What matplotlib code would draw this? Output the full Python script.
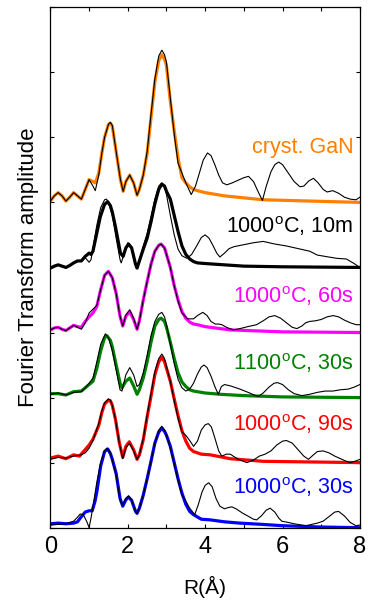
import matplotlib
matplotlib.use("Agg")
import matplotlib.pyplot as plt
from matplotlib.ticker import MultipleLocator

plt.rcParams['font.family'] = ['Liberation Sans', 'DejaVu Sans']
plt.rcParams['mathtext.default'] = 'regular'

# ---- data (amplitudes relative to each curve's baseline) ----
labels = ["1000$^{o}$C, 30s", "1000$^{o}$C, 90s", "1100$^{o}$C, 30s",
          "1000$^{o}$C, 60s", "1000$^{o}$C, 10m", "cryst. GaN"]
colors = ["#0000ff", "#ff0000", "#008000", "#ff00ff", "#000000", "#ff8000"]
offsets = [0, 1, 2, 3, 4, 5]
label_y = [0.51, 1.49, 2.43, 3.46, 4.53, 5.76]

# fits (thick coloured)
fit30_x = [0.0, 0.2, 0.4, 0.6, 0.7, 0.8, 0.9, 1.0, 1.08, 1.15, 1.2, 1.3, 1.4, 1.48, 1.55, 1.6, 1.7, 1.8, 1.87, 1.95, 2.02, 2.1, 2.2, 2.24, 2.3, 2.4, 2.5, 2.6, 2.7, 2.8, 2.88, 2.95, 3.0, 3.1, 3.2, 3.3, 3.4, 3.5, 3.6, 3.7, 3.9, 4.13, 4.5, 4.9, 5.5, 6.0, 7.0, 8.0]
fit30_y = [0.06, 0.07, 0.06, 0.07, 0.09, 0.17, 0.24, 0.26, 0.26, 0.4, 0.55, 0.95, 1.17, 1.21, 1.14, 1.05, 0.83, 0.45, 0.33, 0.43, 0.47, 0.42, 0.25, 0.22, 0.3, 0.5, 0.75, 1.02, 1.3, 1.47, 1.53, 1.48, 1.42, 1.25, 1.0, 0.75, 0.53, 0.36, 0.25, 0.2, 0.13, 0.12, 0.09, 0.07, 0.05, 0.03, 0.01, 0.0]

fit90_x = [0.0, 0.2, 0.4, 0.6, 0.75, 0.9, 1.0, 1.1, 1.2, 1.25, 1.33, 1.4, 1.5, 1.55, 1.6, 1.68, 1.78, 1.87, 1.95, 2.04, 2.15, 2.24, 2.3, 2.4, 2.5, 2.6, 2.7, 2.8, 2.88, 2.95, 3.0, 3.1, 3.2, 3.3, 3.4, 3.5, 3.6, 3.7, 3.9, 4.13, 4.65, 5.5, 8.0]
fit90_y = [0.07, 0.1, 0.06, 0.12, 0.1, 0.2, 0.27, 0.36, 0.5, 0.57, 0.77, 0.9, 0.96, 0.95, 0.88, 0.67, 0.31, 0.08, 0.25, 0.32, 0.2, 0.05, 0.12, 0.35, 0.7, 1.02, 1.35, 1.55, 1.62, 1.55, 1.45, 1.25, 0.98, 0.72, 0.49, 0.33, 0.22, 0.17, 0.13, 0.12, 0.06, 0.02, 0.0]

fit1100_x = [0.0, 0.2, 0.4, 0.6, 0.8, 0.9, 1.0, 1.1, 1.2, 1.3, 1.4, 1.46, 1.55, 1.6, 1.7, 1.8, 1.85, 1.95, 2.05, 2.15, 2.24, 2.3, 2.4, 2.5, 2.6, 2.7, 2.8, 2.86, 2.95, 3.0, 3.1, 3.2, 3.3, 3.4, 3.5, 3.6, 3.7, 4.0, 4.4, 5.0, 6.0, 8.0]
fit1100_y = [0.06, 0.06, 0.04, 0.09, 0.1, 0.15, 0.2, 0.25, 0.45, 0.72, 0.92, 0.95, 0.88, 0.78, 0.5, 0.22, 0.15, 0.25, 0.3, 0.18, 0.05, 0.12, 0.3, 0.55, 0.85, 1.1, 1.2, 1.22, 1.17, 1.08, 0.85, 0.6, 0.38, 0.24, 0.17, 0.12, 0.1, 0.07, 0.05, 0.03, 0.01, 0.0]

fit60_x = [0.0, 0.1, 0.2, 0.3, 0.4, 0.5, 0.6, 0.7, 0.8, 0.9, 1.0, 1.1, 1.2, 1.3, 1.4, 1.5, 1.6, 1.7, 1.8, 1.87, 1.95, 2.05, 2.15, 2.24, 2.3, 2.4, 2.5, 2.6, 2.7, 2.8, 2.86, 2.95, 3.0, 3.1, 3.2, 3.3, 3.4, 3.5, 3.6, 3.7, 3.8, 4.0, 4.65, 6.0, 8.0]
fit60_y = [0.04, 0.07, 0.08, 0.05, 0.03, 0.07, 0.11, 0.09, 0.08, 0.17, 0.24, 0.3, 0.4, 0.66, 0.88, 0.94, 0.84, 0.6, 0.25, 0.1, 0.25, 0.32, 0.2, 0.05, 0.18, 0.5, 0.78, 1.05, 1.25, 1.34, 1.36, 1.3, 1.2, 1.0, 0.72, 0.5, 0.32, 0.22, 0.16, 0.13, 0.12, 0.09, 0.04, 0.01, 0.0]

fit10m_x = [0.0, 0.1, 0.2, 0.3, 0.4, 0.5, 0.6, 0.7, 0.8, 0.9, 1.0, 1.05, 1.1, 1.2, 1.29, 1.4, 1.48, 1.55, 1.6, 1.68, 1.81, 1.88, 1.95, 2.02, 2.1, 2.2, 2.24, 2.3, 2.4, 2.5, 2.6, 2.7, 2.8, 2.88, 2.95, 3.0, 3.1, 3.2, 3.3, 3.4, 3.5, 3.6, 3.7, 3.8, 4.0, 4.5, 5.0, 6.0, 8.0]
fit10m_y = [-0.01, 0.02, 0.04, 0.02, 0.0, 0.03, 0.07, 0.1, 0.1, 0.17, 0.22, 0.2, 0.25, 0.53, 0.78, 0.97, 1.01, 0.95, 0.85, 0.63, 0.22, 0.17, 0.3, 0.36, 0.3, 0.05, -0.01, 0.1, 0.28, 0.45, 0.7, 0.98, 1.2, 1.28, 1.25, 1.17, 1.05, 0.8, 0.55, 0.33, 0.2, 0.13, 0.09, 0.07, 0.06, 0.04, 0.02, 0.01, 0.0]

fitgan_x = [0.0, 0.1, 0.2, 0.3, 0.4, 0.5, 0.6, 0.7, 0.8, 0.9, 1.0, 1.1, 1.16, 1.25, 1.33, 1.4, 1.5, 1.55, 1.6, 1.72, 1.81, 1.88, 1.95, 2.05, 2.15, 2.24, 2.3, 2.4, 2.5, 2.6, 2.7, 2.8, 2.88, 2.95, 3.0, 3.1, 3.2, 3.3, 3.4, 3.5, 3.6, 3.7, 3.8, 4.0, 4.5, 5.5, 8.0]
fitgan_y = [0.02, 0.1, 0.15, 0.1, 0.02, 0.08, 0.15, 0.1, 0.05, 0.2, 0.35, 0.32, 0.3, 0.45, 0.76, 1.0, 1.2, 1.22, 1.17, 0.7, 0.35, 0.17, 0.32, 0.42, 0.3, 0.11, 0.2, 0.42, 0.75, 1.3, 1.85, 2.18, 2.27, 2.2, 2.1, 1.55, 1.1, 0.68, 0.38, 0.3, 0.24, 0.2, 0.18, 0.15, 0.1, 0.04, 0.0]

# data (thin black)
dat30_x = [0.0, 0.2, 0.4, 0.6, 0.7, 0.77, 0.85, 0.95, 1.0, 1.05, 1.12, 1.2, 1.3, 1.4, 1.46, 1.55, 1.6, 1.7, 1.8, 1.87, 1.95, 2.02, 2.1, 2.2, 2.24, 2.3, 2.4, 2.5, 2.6, 2.7, 2.8, 2.88, 2.95, 3.0, 3.1, 3.2, 3.3, 3.4, 3.48, 3.6, 3.73, 3.82, 3.92, 4.0, 4.09, 4.18, 4.28, 4.38, 4.5, 4.6, 4.69, 4.8, 4.95, 5.1, 5.25, 5.33, 5.45, 5.58, 5.68, 5.8, 5.9, 5.98, 6.15, 6.3, 6.5, 6.6, 6.75, 6.9, 7.05, 7.2, 7.35, 7.45, 7.6, 7.75, 7.9, 8.0]
dat30_y = [0.04, 0.05, 0.06, 0.1, 0.16, 0.21, 0.2, 0.08, 0.0, 0.15, 0.4, 0.7, 1.0, 1.18, 1.22, 1.15, 1.03, 0.8, 0.42, 0.35, 0.45, 0.49, 0.42, 0.25, 0.22, 0.3, 0.5, 0.75, 1.02, 1.3, 1.5, 1.56, 1.5, 1.42, 1.22, 0.98, 0.72, 0.5, 0.43, 0.3, 0.2, 0.35, 0.55, 0.65, 0.69, 0.63, 0.45, 0.33, 0.29, 0.31, 0.32, 0.29, 0.23, 0.18, 0.13, 0.12, 0.18, 0.27, 0.3, 0.24, 0.15, 0.1, 0.08, 0.06, 0.04, 0.03, 0.05, 0.07, 0.1, 0.17, 0.24, 0.25, 0.18, 0.08, 0.03, 0.04]

dat90_x = [0.0, 0.2, 0.4, 0.6, 0.8, 0.9, 1.0, 1.1, 1.2, 1.25, 1.33, 1.4, 1.5, 1.55, 1.6, 1.68, 1.78, 1.87, 1.95, 2.04, 2.15, 2.24, 2.3, 2.4, 2.5, 2.6, 2.7, 2.8, 2.88, 2.95, 3.0, 3.1, 3.2, 3.3, 3.4, 3.5, 3.6, 3.7, 3.8, 3.9, 4.0, 4.08, 4.16, 4.25, 4.35, 4.43, 4.55, 4.65, 4.75, 4.9, 5.08, 5.25, 5.4, 5.55, 5.7, 5.85, 6.0, 6.1, 6.25, 6.4, 6.55, 6.67, 6.78, 6.9, 7.05, 7.2, 7.35, 7.5, 7.65, 7.74, 7.87, 8.0]
dat90_y = [0.05, 0.08, 0.07, 0.1, 0.12, 0.15, 0.22, 0.34, 0.52, 0.6, 0.8, 0.92, 0.98, 0.96, 0.88, 0.67, 0.3, 0.06, 0.22, 0.3, 0.18, 0.05, 0.12, 0.37, 0.73, 1.06, 1.4, 1.6, 1.67, 1.6, 1.48, 1.25, 0.95, 0.68, 0.47, 0.42, 0.34, 0.25, 0.33, 0.5, 0.58, 0.6, 0.55, 0.38, 0.18, 0.1, 0.13, 0.13, 0.09, 0.04, 0.0, 0.04, 0.1, 0.13, 0.18, 0.27, 0.33, 0.34, 0.3, 0.2, 0.1, 0.05, 0.11, 0.17, 0.18, 0.15, 0.1, 0.06, 0.02, 0.0, 0.02, 0.05]

dat1100_x = [0.0, 0.2, 0.4, 0.6, 0.8, 0.9, 1.0, 1.1, 1.2, 1.3, 1.42, 1.5, 1.6, 1.7, 1.8, 1.85, 1.95, 2.05, 2.15, 2.24, 2.3, 2.4, 2.5, 2.6, 2.7, 2.8, 2.88, 2.95, 3.0, 3.1, 3.2, 3.3, 3.4, 3.5, 3.6, 3.7, 3.8, 3.9, 3.97, 4.05, 4.15, 4.25, 4.34, 4.42, 4.5, 4.65, 4.9, 5.15, 5.3, 5.38, 5.5, 5.65, 5.78, 5.87, 6.0, 6.15, 6.3, 6.5, 6.7, 6.9, 7.1, 7.3, 7.5, 7.7, 7.85, 8.0]
dat1100_y = [0.05, 0.07, 0.04, 0.08, 0.09, 0.15, 0.22, 0.3, 0.55, 0.82, 0.98, 0.92, 0.72, 0.42, 0.12, 0.1, 0.35, 0.46, 0.35, 0.17, 0.2, 0.38, 0.65, 0.95, 1.17, 1.28, 1.31, 1.24, 1.12, 0.82, 0.52, 0.28, 0.15, 0.1, 0.13, 0.22, 0.36, 0.47, 0.5, 0.46, 0.33, 0.17, 0.05, 0.17, 0.2, 0.18, 0.13, 0.07, 0.03, 0.02, 0.07, 0.16, 0.22, 0.23, 0.2, 0.12, 0.06, 0.03, 0.05, 0.08, 0.1, 0.1, 0.12, 0.13, 0.16, 0.2]

dat60_x = [0.0, 0.1, 0.2, 0.3, 0.4, 0.5, 0.6, 0.7, 0.8, 0.9, 1.0, 1.12, 1.2, 1.3, 1.4, 1.5, 1.6, 1.7, 1.8, 1.87, 1.95, 2.05, 2.15, 2.24, 2.3, 2.4, 2.5, 2.6, 2.7, 2.8, 2.86, 2.95, 3.0, 3.1, 3.2, 3.3, 3.4, 3.55, 3.7, 3.8, 3.94, 4.05, 4.15, 4.26, 4.35, 4.43, 4.55, 4.73, 4.9, 5.1, 5.33, 5.5, 5.65, 5.8, 5.95, 6.1, 6.25, 6.37, 6.5, 6.6, 6.7, 6.85, 7.0, 7.15, 7.31, 7.45, 7.6, 7.75, 7.9, 8.0]
dat60_y = [0.04, 0.07, 0.08, 0.05, 0.03, 0.07, 0.11, 0.08, 0.05, 0.15, 0.3, 0.37, 0.42, 0.66, 0.88, 0.94, 0.84, 0.6, 0.25, 0.1, 0.27, 0.35, 0.22, 0.05, 0.18, 0.5, 0.78, 1.05, 1.25, 1.34, 1.36, 1.3, 1.2, 1.0, 0.72, 0.48, 0.3, 0.21, 0.21, 0.26, 0.31, 0.26, 0.17, 0.13, 0.13, 0.12, 0.08, 0.04, 0.06, 0.09, 0.12, 0.18, 0.24, 0.26, 0.22, 0.15, 0.08, 0.06, 0.1, 0.15, 0.17, 0.18, 0.2, 0.24, 0.26, 0.24, 0.19, 0.15, 0.12, 0.12]

dat10m_x = [0.0, 0.1, 0.2, 0.3, 0.4, 0.5, 0.6, 0.7, 0.8, 0.9, 1.0, 1.05, 1.1, 1.2, 1.3, 1.4, 1.45, 1.5, 1.6, 1.7, 1.8, 1.83, 1.9, 2.0, 2.1, 2.2, 2.24, 2.3, 2.4, 2.5, 2.6, 2.7, 2.8, 2.88, 2.95, 3.0, 3.1, 3.2, 3.3, 3.4, 3.53, 3.65, 3.78, 3.9, 4.0, 4.1, 4.2, 4.3, 4.38, 4.5, 4.62, 4.75, 5.0, 5.25, 5.5, 5.8, 6.1, 6.4, 6.7, 6.9, 7.1, 7.4, 7.65, 7.85, 8.0]
dat10m_y = [0.0, 0.02, 0.04, 0.02, 0.0, 0.03, 0.07, 0.1, 0.1, 0.15, 0.08, 0.12, 0.3, 0.65, 0.92, 1.04, 1.05, 1.0, 0.8, 0.45, 0.12, 0.07, 0.2, 0.38, 0.3, 0.05, 0.0, 0.12, 0.33, 0.52, 0.78, 1.05, 1.25, 1.3, 1.25, 1.12, 0.8, 0.5, 0.28, 0.18, 0.14, 0.2, 0.33, 0.46, 0.5, 0.45, 0.34, 0.22, 0.16, 0.22, 0.29, 0.32, 0.35, 0.38, 0.4, 0.36, 0.33, 0.29, 0.25, 0.19, 0.17, 0.14, 0.13, 0.06, 0.0]

datgan_x = [0.0, 0.1, 0.2, 0.3, 0.4, 0.5, 0.6, 0.7, 0.8, 0.9, 1.0, 1.1, 1.16, 1.25, 1.33, 1.4, 1.5, 1.55, 1.6, 1.72, 1.81, 1.88, 1.95, 2.05, 2.15, 2.24, 2.3, 2.4, 2.5, 2.6, 2.7, 2.8, 2.88, 2.95, 3.0, 3.1, 3.2, 3.3, 3.4, 3.5, 3.64, 3.75, 3.85, 3.95, 4.06, 4.15, 4.25, 4.35, 4.45, 4.56, 4.7, 4.85, 5.0, 5.12, 5.25, 5.38, 5.48, 5.58, 5.7, 5.8, 5.9, 6.0, 6.15, 6.3, 6.45, 6.55, 6.68, 6.8, 6.92, 7.05, 7.15, 7.3, 7.45, 7.6, 7.75, 7.9, 8.0]
datgan_y = [0.02, 0.1, 0.15, 0.1, 0.02, 0.08, 0.15, 0.1, 0.05, 0.2, 0.35, 0.25, 0.18, 0.42, 0.76, 1.0, 1.2, 1.23, 1.18, 0.7, 0.35, 0.17, 0.32, 0.42, 0.3, 0.11, 0.2, 0.42, 0.78, 1.35, 1.9, 2.25, 2.34, 2.27, 2.15, 1.6, 1.05, 0.6, 0.45, 0.3, 0.12, 0.25, 0.45, 0.65, 0.76, 0.72, 0.58, 0.42, 0.3, 0.27, 0.3, 0.34, 0.38, 0.4, 0.32, 0.15, 0.03, 0.25, 0.47, 0.58, 0.62, 0.58, 0.45, 0.32, 0.24, 0.25, 0.33, 0.37, 0.3, 0.2, 0.16, 0.18, 0.14, 0.08, 0.05, 0.04, 0.08]

fits = [(fit30_x, fit30_y), (fit90_x, fit90_y), (fit1100_x, fit1100_y),
        (fit60_x, fit60_y), (fit10m_x, fit10m_y), (fitgan_x, fitgan_y)]
datas = [(dat30_x, dat30_y), (dat90_x, dat90_y), (dat1100_x, dat1100_y),
         (dat60_x, dat60_y), (dat10m_x, dat10m_y), (datgan_x, datgan_y)]

fig = plt.figure(figsize=(3.68, 6.01), dpi=100)
ax = fig.add_axes([0.137, 0.122, 0.841, 0.866])

for (fx, fy), (dx, dy), off, col, lab, ly in zip(fits, datas, offsets, colors, labels, label_y):
    ax.plot(fx, [v + off for v in fy], color=col, lw=2.3, solid_joinstyle='round', zorder=2)
    ax.plot(dx, [v + off for v in dy], color='black', lw=0.8, zorder=3)
    ax.text(7.83, ly, lab, color=col, ha='right', va='baseline', fontsize=15.5, zorder=4)

ax.set_xlim(0, 8)
ax.set_ylim(0, 8)
ax.xaxis.set_major_locator(MultipleLocator(2))
ax.xaxis.set_minor_locator(MultipleLocator(1))
ax.yaxis.set_major_locator(MultipleLocator(1))
ax.tick_params(which='both', direction='in', length=3, width=0.8, top=True, right=True,
               labelleft=False, labelsize=17, pad=6)
for s in ax.spines.values():
    s.set_linewidth(0.9)
ax.set_xlabel("R(Å)", fontsize=15, labelpad=13)
ax.set_ylabel("Fourier Transform amplitude", fontsize=16, labelpad=8)

fig.savefig("out.png", dpi=100)
